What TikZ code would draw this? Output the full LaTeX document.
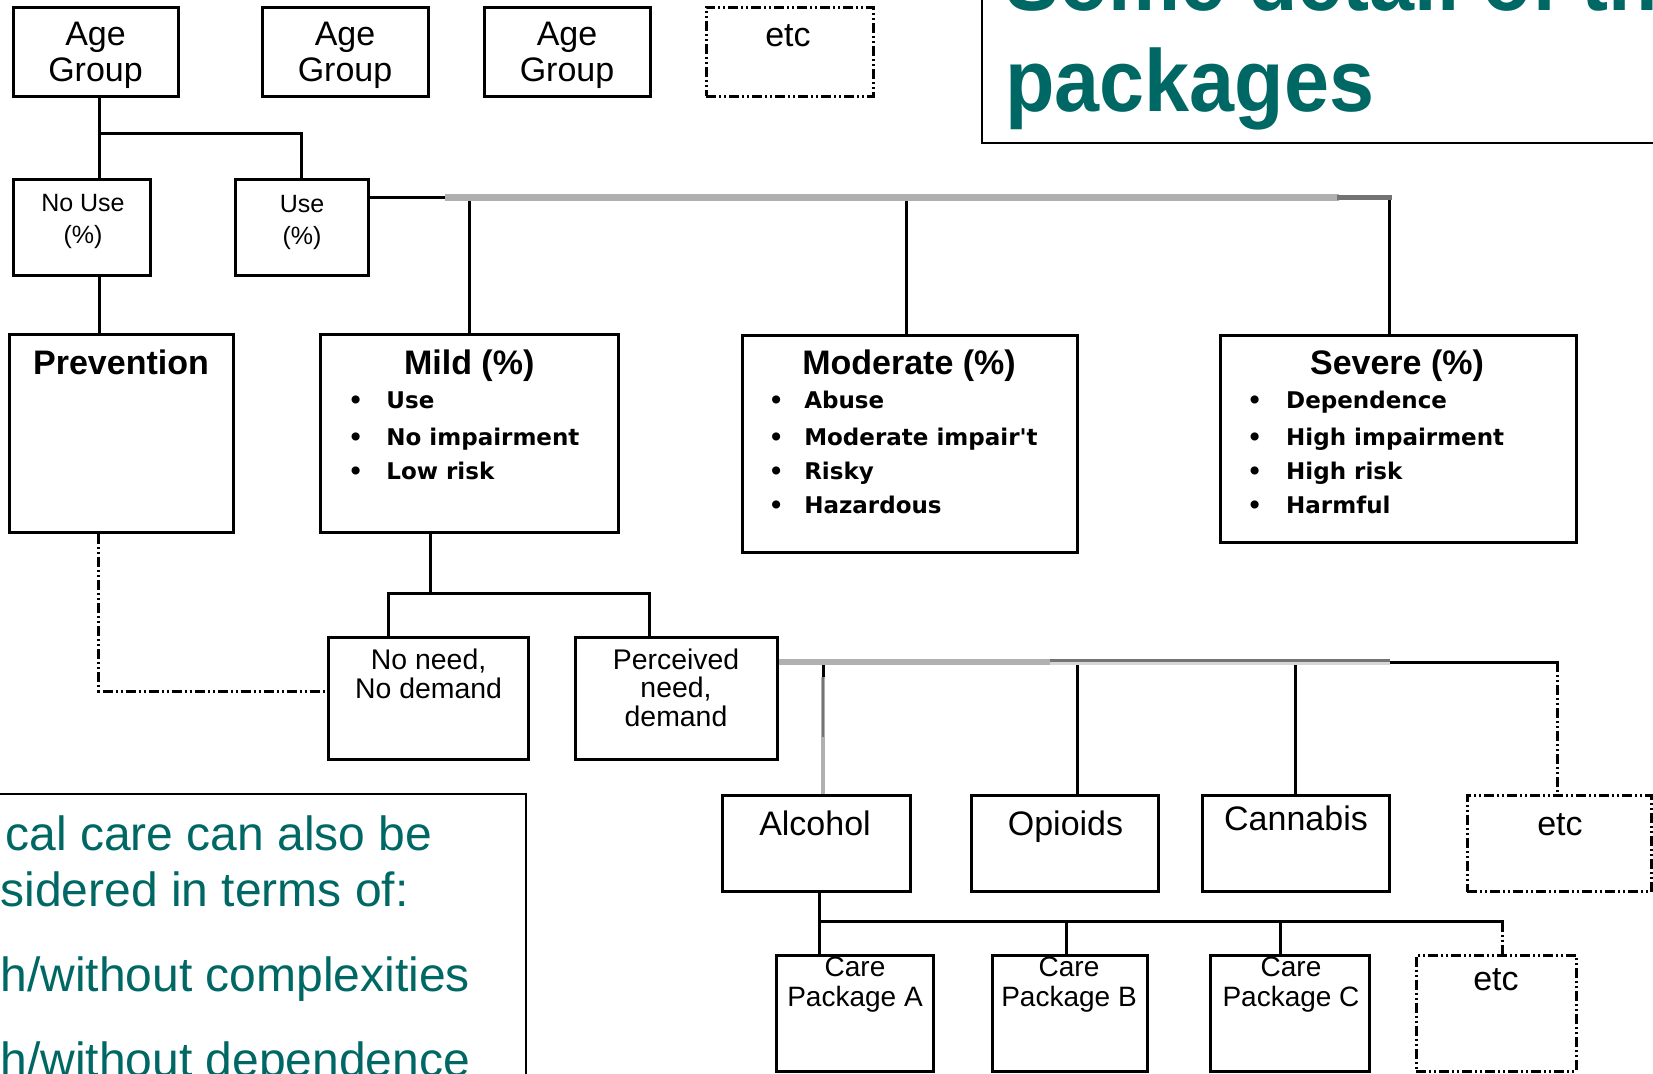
\documentclass[tikz,border=0pt]{standalone}
\usepackage{fontspec}
\setmainfont{Liberation Sans}
\newfontfamily\dvfont{DejaVu Sans}
\usepackage{graphicx}
\definecolor{teal2}{RGB}{0,104,100}
\definecolor{lg}{RGB}{176,176,176}
\definecolor{lgb}{RGB}{214,214,214}
\definecolor{dg}{RGB}{115,115,115}
\newcommand\bul[2]{\makebox[#1][l]{\textbullet}#2}
\begin{document}
\begin{tikzpicture}[x=0.5pt,y=-0.5pt,
  boxn/.style={draw=black, line width=1.5pt, inner sep=0pt},
  ddbox/.style={boxn, dash pattern=on 5pt off 1.5pt on 1pt off 1.5pt on 1pt off 1.5pt},
  sz/.style 2 args={minimum width=#1*0.5pt, minimum height=#2*0.5pt},
  conn/.style={draw=black, line width=1.5pt, line cap=rect},
  dd/.style={draw=black, line width=1.5pt, dash pattern=on 5pt off 1.5pt on 1pt off 1.5pt on 1pt off 1.5pt},
  lbl/.style={inner sep=0pt, align=center, font=\fontsize{17}{18.35}\selectfont},
  smalllbl/.style={inner sep=0pt, align=center, font=\fontsize{12.5}{15.6}\selectfont},
  hdr/.style={inner sep=0pt, font=\bfseries\fontsize{17}{20}\selectfont},
  blist/.style={inner sep=0pt, align=left, font=\dvfont\bfseries\fontsize{11.5}{16.8}\selectfont},
  midlbl/.style={inner sep=0pt, align=center, font=\fontsize{14.2}{14.3}\selectfont},
  carelbl/.style={inner sep=0pt, align=center, font=\fontsize{14}{15}\selectfont},
  outline/.style={draw=black, line width=1pt}
]
\useasboundingbox (0,0) rectangle (1653,1073);
\clip (0,0) rectangle (1653,1073);

% ---------- boxes ----------
\node[boxn, sz={165}{89}] (ag1) at (95.5,51.5) {};
\node[boxn, sz={166}{89}] (ag2) at (345,51.5) {};
\node[boxn, sz={166}{89}] (ag3) at (567,51.5) {};
\node[ddbox, sz={167}{89}] (etc1) at (789.5,51.5) {};
\node[boxn, sz={137}{96}] (nouse) at (81.5,227) {};
\node[boxn, sz={133.5}{96}] (use) at (301.75,227) {};
\node[boxn, sz={224}{198}] (prev) at (121,433.6) {};
\node[boxn, sz={297.6}{197.6}] (mild) at (469.2,433.5) {};
\node[boxn, sz={335.5}{216.6}] (mod) at (909.75,444) {};
\node[boxn, sz={355.8}{207}] (sev) at (1398.5,438.8) {};
\node[boxn, sz={200}{122}] (noneed) at (428.6,698.3) {};
\node[boxn, sz={202}{122}] (perc) at (676,698.3) {};
\node[boxn, sz={187.8}{96}] (alc) at (816.4,843.7) {};
\node[boxn, sz={187.2}{96}] (opi) at (1065.3,843.7) {};
\node[boxn, sz={187.2}{96}] (can) at (1295.6,843.7) {};
\node[ddbox, sz={184}{96}] (etc2) at (1559,843.7) {};
\node[boxn, sz={156.8}{115.3}] (cpa) at (855,1013.35) {};
\node[boxn, sz={155}{115.3}] (cpb) at (1069.8,1013.35) {};
\node[boxn, sz={159.2}{115.3}] (cpc) at (1289.6,1013.35) {};
\node[ddbox, sz={160.4}{115.3}] (etc3) at (1496.2,1013.35) {};

% ---------- texts (base anchor = baseline of last line) ----------
\node[lbl, anchor=base] (ag1t) at (95.5,81.7) {Age\\Group};
\node[lbl, anchor=base] (ag2t) at (345,81.7) {Age\\Group};
\node[lbl, anchor=base] (ag3t) at (567,81.7) {Age\\Group};
\node[lbl, anchor=base] (etc1t) at (788,46) {etc};
\node[smalllbl, anchor=base] (nouset) at (83,243) {No Use\\(\%)};
\node[smalllbl, anchor=base] (uset) at (302,244) {Use\\(\%)};
\node[hdr, anchor=base] (prevt) at (121,374) {Prevention};
\node[hdr, anchor=base] (mildt) at (469.2,374) {Mild (\%)};
\node[hdr, anchor=base] (modt) at (909,374) {Moderate (\%)};
\node[hdr, anchor=base] (sevt) at (1397,374) {Severe (\%)};
\node[blist, anchor=base west] (mildl) at (348,479.5)
  {\bul{19pt}{Use}\\[2pt]\bul{19pt}{No impairment}\\\bul{19pt}{Low risk}};
\node[blist, anchor=base west] (modl) at (768.5,513)
  {\bul{17.7pt}{Abuse}\\[2pt]\bul{17.7pt}{Moderate impair't}\\\bul{17.7pt}{Risky}\\\bul{17.7pt}{Hazardous}};
\node[blist, anchor=base west] (sevl) at (1247,513)
  {\bul{19.4pt}{Dependence}\\[2pt]\bul{19.4pt}{High impairment}\\\bul{19.4pt}{High risk}\\\bul{19.4pt}{Harmful}};
\node[midlbl, anchor=base] (noneedt) at (428.6,698) {No need,\\No demand};
\node[midlbl, anchor=base] (perct) at (676,726.3) {Perceived\\need,\\demand};
\node[lbl, anchor=base] (alct) at (815,835.3) {Alcohol};
\node[lbl, anchor=base] (opit) at (1065.5,835.3) {Opioids};
\node[lbl, anchor=base] (cant) at (1296,830.7) {Cannabis};
\node[lbl, anchor=base] (etc2t) at (1560,835.3) {etc};
\node[carelbl, anchor=base] (cpat) at (855,1006.7) {Care\\Package A};
\node[carelbl, anchor=base] (cpbt) at (1069,1006.7) {Care\\Package B};
\node[carelbl, anchor=base] (cpct) at (1291,1006.7) {Care\\Package C};
\node[lbl, anchor=base] (etc3t) at (1496,990) {etc};

% ---------- connectors ----------
\coordinate (xa) at (99,0);
\coordinate (br1) at (99,133);
\draw[conn] (ag1.south -| xa) -- (nouse.north -| xa);
\draw[conn] (br1) -| (use.north);
\draw[conn] (nouse.south -| xa) -- (prev.north -| xa);

\coordinate (t1a) at (445,197.5);
\coordinate (t1b) at (1339,197.5);
\coordinate (t1c) at (1389,197.5);
\coordinate (mv) at (906,197.5);
\draw[conn] (use.east |- t1a) -- (t1a);
\draw[conn] (mild.north |- t1a) -- (mild.north);
\draw[conn] (mv) -- (mv |- mod.north);
\draw[conn] (t1c) -- (t1c |- sev.north);
\draw[draw=lg, line width=3.5pt] (t1a) -- (t1b);
\draw[draw=dg, line width=2.5pt, line cap=rect] (t1b) -- (t1c);

\coordinate (m1) at (430,593);
\coordinate (m2) at (388,593);
\coordinate (m3) at (649,593);
\draw[conn] (mild.south -| m1) -- (m1);
\draw[conn] (noneed.north -| m2) -- (m2) -- (m3) -- (perc.north -| m3);

\coordinate (pd) at (98.5,691);
\draw[dd] (prev.south -| pd) -- (pd) -- (pd -| noneed.west);

\coordinate (t2a) at (1049.5,662);
\coordinate (t2b) at (1390,662);
\coordinate (t2c) at (1557,662);
\coordinate (av) at (823,662);
\coordinate (a2) at (823,677);
\coordinate (a3) at (823,737);
\coordinate (ov) at (1077,662);
\draw[conn] (ov) -- (ov |- opi.north);
\draw[conn] (can.north |- t2a) -- (can.north);
\draw[conn] (t2b) -- (t2c);
\draw[dd] (t2c) -- (t2c |- etc2.north);
\draw[conn] (av) -- (a2);
\draw[draw=lg, line width=2pt] (a2) -- (a3 |- alc.north);
\draw[draw=dg, line width=1pt] (a2) -- (a3);
\draw[draw=lg, line width=3pt] (perc.east |- t2a) -- (t2a);
\draw[draw=lgb, line width=1.5pt, transform canvas={yshift=-0.75pt}] (t2a) -- (t2b);
\draw[draw=dg, line width=1.5pt, transform canvas={yshift=0.75pt}] (t2a) -- (t2b);

\coordinate (c0) at (819.7,921.7);
\coordinate (c1) at (1502.3,921.7);
\coordinate (cb) at (1066,921.7);
\coordinate (cc) at (1280.4,921.7);
\draw[conn] (alc.south -| c0) -- (c0 |- cpa.north);
\draw[conn] (c0) -- (c1);
\draw[conn] (cb) -- (cb |- cpb.north);
\draw[conn] (cc) -- (cc |- cpc.north);
\draw[dd] (c1) -- (c1 |- etc3.north);

% ---------- title and side text ----------
\draw[outline] (981.7,-20) rectangle (1700,143.3);
\node[inner sep=0pt, anchor=base west, text=teal2, font=\bfseries\fontsize{44}{50.85}\selectfont] (title) at (1005,10)
  {\scalebox{0.92}[1]{\begin{tabular}[t]{@{}l@{}}Some detail of the\\packages\end{tabular}}};
\draw[outline] (-20,794) rectangle (525.5,1100);
\node[inner sep=0pt, anchor=base west, text=teal2, align=left, font=\fontsize{24}{28.35}\selectfont] (note) at (0,1076.7)
  {\hspace*{2.5pt}cal care can also be\\sidered in terms of:\\[14.15pt]h/without complexities\\[14.15pt]h/without dependence};
\end{tikzpicture}
\end{document}
